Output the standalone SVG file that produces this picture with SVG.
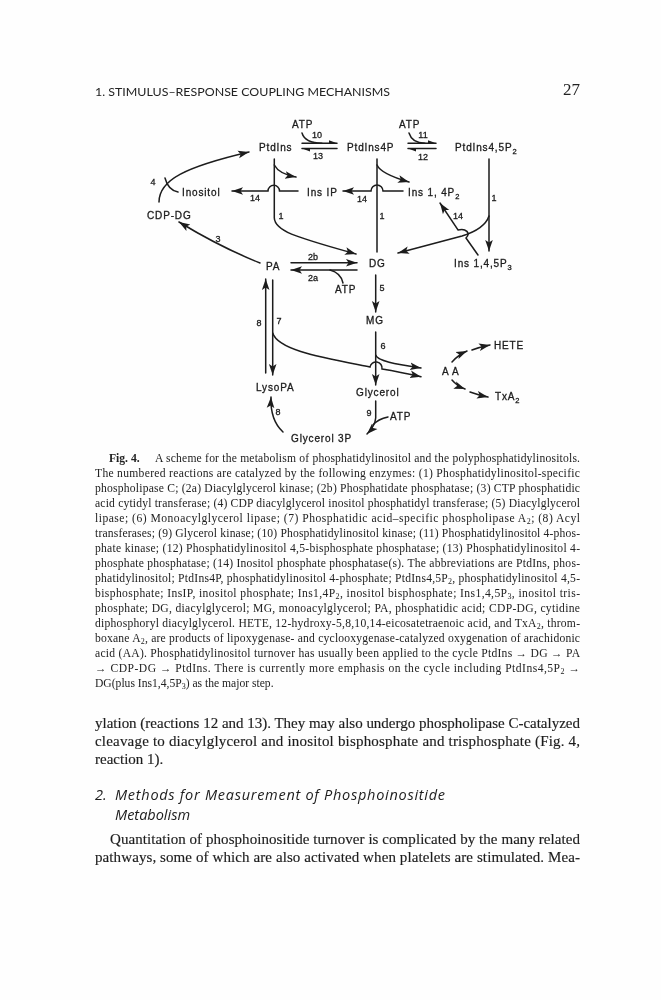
<svg xmlns="http://www.w3.org/2000/svg" width="661" height="1000" viewBox="0 0 661 1000">
<style>
.n{font-family:"Liberation Sans",Arial,sans-serif;font-size:10px;fill:#1c1c1c;stroke:#1c1c1c;stroke-width:.3;letter-spacing:.85px}
.l{font-family:"Liberation Sans",Arial,sans-serif;font-size:9px;fill:#1c1c1c;stroke:#1c1c1c;stroke-width:.3;text-anchor:middle}
.s{font-size:7.5px}
.c{fill:none;stroke:#1c1c1c;stroke-width:1.5;stroke-linecap:round}
.a{marker-end:url(#ah)}
.h{marker-end:url(#hh)}
.cap{font-family:"Liberation Serif","Times New Roman",serif;font-size:11.6px;fill:#222}
.sub{font-size:8px}
.body{font-family:"Liberation Serif","Times New Roman",serif;font-size:15px;fill:#1c1c1c;stroke:#1c1c1c;stroke-width:.15}
.head{font-family:"Lato","Open Sans",sans-serif;font-size:11.5px;fill:#222}
.sec{font-family:"Open Sans","Lato",sans-serif;font-size:14.5px;font-style:italic;fill:#1c1c1c}
</style>
<defs>
<marker id="ah" markerUnits="userSpaceOnUse" markerWidth="13" markerHeight="10" refX="11" refY="5" orient="auto"><path d="M0,1.2 L11,5 L0,8.8 L2.5,5 Z" fill="#1c1c1c"/></marker>
<marker id="hh" markerUnits="userSpaceOnUse" markerWidth="11" markerHeight="8" refX="9" refY="5" orient="auto"><path d="M1,2 L9,5 L1,5 Z" fill="#1c1c1c"/></marker>
<filter id="scan" x="0" y="0" width="100%" height="100%"><feGaussianBlur stdDeviation="0.35"/></filter>
</defs>
<rect width="661" height="1000" fill="#fefefe"/>
<g filter="url(#scan)">
<g id="page-header">
<text class="head" x="95" y="96" textLength="295" lengthAdjust="spacingAndGlyphs">1.  STIMULUS–RESPONSE COUPLING MECHANISMS</text>
<text x="563" y="95" font-family="Liberation Serif,serif" font-size="17" fill="#222">27</text>
</g>

<g id="connectors">
<path class="c h" d="M302,143.3H337"/>
<path class="c h" d="M337,148.5H302"/>
<path class="c" d="M302,133Q305,143 322,143.3"/>
<path class="c h" d="M408,143.3H436"/>
<path class="c h" d="M436,148.5H408"/>
<path class="c" d="M409,133Q412,143 425,143.3"/>

<path class="c a" d="M274.3,159V218C275,232 300,238 356,254"/>
<path class="c a" d="M274.3,165Q279,174 296,177"/>
<path class="c a" d="M298,191H279.5A5.7,5.7 0 0 0 268,191H232"/>

<path class="c" d="M377,159V252"/>
<path class="c a" d="M377,165Q381,174 409,182"/>
<path class="c a" d="M403,191H383A6,6 0 0 0 371,191H343"/>

<path class="c a" d="M489,159V251"/>
<path class="c a" d="M489,216C486,225 475,232 462,236C440,242 420,247 398,253"/>
<path class="c a" d="M478,255L466,238C471,233 466,228 458,230L440,203"/>

<path class="c a" d="M159,202C159,180 185,167 249,152"/>
<path class="c" d="M178,192Q168,190 165,178"/>
<path class="c a" d="M260,263Q220,247 179,222"/>

<path class="c a" d="M291,262.7H357"/>
<path class="c a" d="M357,270H291"/>
<path class="c" d="M330,270Q341,273 343,283"/>

<path class="c a" d="M375.7,275V312"/>
<path class="c a" d="M375.7,332V385"/>
<path class="c a" d="M375.7,355C377,361 395,364 421,368"/>
<path class="c a" d="M272.7,333C278,350 320,357 370,367A6,6 0 0 1 382,369Q400,372 421,376.7"/>
<path class="c a" d="M265.7,373V279"/>
<path class="c a" d="M272.7,280V375"/>
<path class="c a" d="M283,432Q270,420 271,397"/>
<path class="c a" d="M375.7,401V418Q375,426 367,434"/>
<path class="c" d="M388,417Q378,419 373,425"/>

<path class="c a" d="M452,362Q458,355 467,351"/>
<path class="c a" d="M472,350Q480,347 490,345"/>
<path class="c a" d="M452,380Q457,386 465,389"/>
<path class="c a" d="M470,392Q478,395 488,397"/>
</g>

<g id="atp-10"><text class="n" x="292" y="128">ATP</text></g>
<g id="atp-11"><text class="n" x="399" y="128">ATP</text></g>
<g id="ptdins"><text class="n" x="259" y="151">PtdIns</text></g>
<g id="ptdins4p"><text class="n" x="347" y="151">PtdIns4P</text></g>
<g id="ptdins45p2"><text class="n" x="455" y="151">PtdIns4,5P<tspan class="s" dy="3">2</tspan></text></g>
<g id="inositol"><text class="n" x="182" y="196">Inositol</text></g>
<g id="insip"><text class="n" x="307" y="195.5">Ins IP</text></g>
<g id="ins14p2"><text class="n" x="408" y="196">Ins 1, 4P<tspan class="s" dy="3">2</tspan></text></g>
<g id="cdpdg"><text class="n" x="147" y="219">CDP-DG</text></g>
<g id="pa"><text class="n" x="266" y="270">PA</text></g>
<g id="dg"><text class="n" x="369" y="267">DG</text></g>
<g id="ins145p3"><text class="n" x="454" y="267">Ins 1,4,5P<tspan class="s" dy="3">3</tspan></text></g>
<g id="atp-2a"><text class="n" x="335" y="293">ATP</text></g>
<g id="mg"><text class="n" x="366" y="324">MG</text></g>
<g id="hete"><text class="n" x="494" y="349">HETE</text></g>
<g id="aa"><text class="n" x="442" y="375">A A</text></g>
<g id="lysopa"><text class="n" x="256" y="391">LysoPA</text></g>
<g id="glycerol"><text class="n" x="356" y="396">Glycerol</text></g>
<g id="txa2"><text class="n" x="495" y="400">TxA<tspan class="s" dy="3">2</tspan></text></g>
<g id="atp-9"><text class="n" x="390" y="420">ATP</text></g>
<g id="glycerol3p"><text class="n" x="291" y="442">Glycerol 3P</text></g>

<g id="reaction-labels">
<text class="l" x="317" y="138">10</text>
<text class="l" x="318" y="159">13</text>
<text class="l" x="423" y="138">11</text>
<text class="l" x="423" y="160">12</text>
<text class="l" x="494" y="201">1</text>
<text class="l" x="458" y="219">14</text>
<text class="l" x="281" y="219">1</text>
<text class="l" x="382" y="219">1</text>
<text class="l" x="255" y="201">14</text>
<text class="l" x="362" y="202">14</text>
<text class="l" x="153" y="185">4</text>
<text class="l" x="218" y="242">3</text>
<text class="l" x="313" y="260">2b</text>
<text class="l" x="313" y="281">2a</text>
<text class="l" x="382" y="291">5</text>
<text class="l" x="383" y="349">6</text>
<text class="l" x="259" y="326">8</text>
<text class="l" x="279" y="324">7</text>
<text class="l" x="278" y="415">8</text>
<text class="l" x="369" y="416">9</text>
</g>

<g id="caption">
<text class="cap" x="109" y="462" font-weight="bold">Fig. 4.</text>
<text class="cap" x="155" y="462" textLength="425">A scheme for the metabolism of phosphatidylinositol and the polyphosphatidylinositols.</text>
<text class="cap" x="95" y="477" textLength="485">The numbered reactions are catalyzed by the following enzymes: (1) Phosphatidylinositol-specific</text>
<text class="cap" x="95" y="492" textLength="485">phospholipase C; (2a) Diacylglycerol kinase; (2b) Phosphatidate phosphatase; (3) CTP phosphatidic</text>
<text class="cap" x="95" y="507" textLength="485">acid cytidyl transferase; (4) CDP diacylglycerol inositol phosphatidyl transferase; (5) Diacylglycerol</text>
<text class="cap" x="95" y="522" textLength="485">lipase; (6) Monoacylglycerol lipase; (7) Phosphatidic acid–specific phospholipase A<tspan class="sub" dy="2">2</tspan><tspan dy="-2">; (8) Acyl</tspan></text>
<text class="cap" x="95" y="537" textLength="485">transferases; (9) Glycerol kinase; (10) Phosphatidylinositol kinase; (11) Phosphatidylinositol 4-phos-</text>
<text class="cap" x="95" y="552" textLength="485">phate kinase; (12) Phosphatidylinositol 4,5-bisphosphate phosphatase; (13) Phosphatidylinositol 4-</text>
<text class="cap" x="95" y="567" textLength="485">phosphate phosphatase; (14) Inositol phosphate phosphatase(s). The abbreviations are PtdIns, phos-</text>
<text class="cap" x="95" y="582" textLength="485">phatidylinositol; PtdIns4P, phosphatidylinositol 4-phosphate; PtdIns4,5P<tspan class="sub" dy="2">2</tspan><tspan dy="-2">, phosphatidylinositol 4,5-</tspan></text>
<text class="cap" x="95" y="597" textLength="485">bisphosphate; InsIP, inositol phosphate; Ins1,4P<tspan class="sub" dy="2">2</tspan><tspan dy="-2">, inositol bisphosphate; Ins1,4,5P</tspan><tspan class="sub" dy="2">3</tspan><tspan dy="-2">, inositol tris-</tspan></text>
<text class="cap" x="95" y="612" textLength="485">phosphate; DG, diacylglycerol; MG, monoacylglycerol; PA, phosphatidic acid; CDP-DG, cytidine</text>
<text class="cap" x="95" y="627" textLength="485">diphosphoryl diacylglycerol. HETE, 12-hydroxy-5,8,10,14-eicosatetraenoic acid, and TxA<tspan class="sub" dy="2">2</tspan><tspan dy="-2">, throm-</tspan></text>
<text class="cap" x="95" y="642" textLength="485">boxane A<tspan class="sub" dy="2">2</tspan><tspan dy="-2">, are products of lipoxygenase- and cyclooxygenase-catalyzed oxygenation of arachidonic</tspan></text>
<text class="cap" x="95" y="657" textLength="485">acid (AA). Phosphatidylinositol turnover has usually been applied to the cycle PtdIns → DG → PA</text>
<text class="cap" x="95" y="672" textLength="485">→ CDP-DG → PtdIns. There is currently more emphasis on the cycle including PtdIns4,5P<tspan class="sub" dy="2">2</tspan><tspan dy="-2"> →</tspan></text>
<text class="cap" x="95" y="687">DG(plus Ins1,4,5P<tspan class="sub" dy="2">3</tspan><tspan dy="-2">) as the major step.</tspan></text>
</g>

<g id="body-text">
<text class="body" x="95" y="728" textLength="485">ylation (reactions 12 and 13). They may also undergo phospholipase C-catalyzed</text>
<text class="body" x="95" y="746" textLength="485">cleavage to diacylglycerol and inositol bisphosphate and trisphosphate (Fig. 4,</text>
<text class="body" x="95" y="763.5">reaction 1).</text>
<text class="sec" x="95" y="800">2.</text>
<text class="sec" x="115" y="800" textLength="330">Methods for Measurement of Phosphoinositide</text>
<text class="sec" x="115" y="820">Metabolism</text>
<text class="body" x="110" y="844" textLength="470">Quantitation of phosphoinositide turnover is complicated by the many related</text>
<text class="body" x="95" y="862" textLength="485">pathways, some of which are also activated when platelets are stimulated. Mea-</text>
</g>
</g>
</svg>
